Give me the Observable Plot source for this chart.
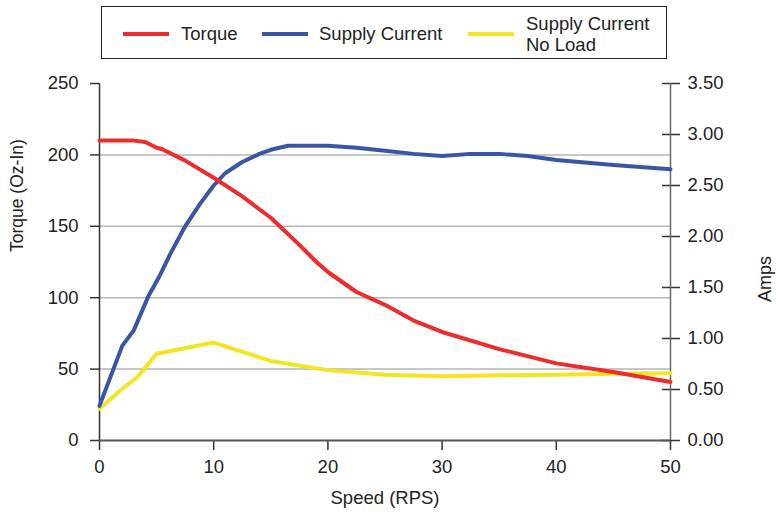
<!DOCTYPE html>
<html>
<head>
<meta charset="utf-8">
<script src="https://cdn.jsdelivr.net/npm/d3@7"></script>
<script src="https://cdn.jsdelivr.net/npm/@observablehq/plot@0.6"></script>
<style>
  body { margin: 0; background: #fff; font-family: "Liberation Sans", Arial, Helvetica, sans-serif; }
  #wrap { position: relative; width: 776px; height: 516px; }
  #chart { position: absolute; left: 0; top: 0; }
  #legendBox { position: absolute; left: 101px; top: 6px; width: 566px; height: 53px; border: 1.5px solid #222; box-sizing: border-box; }
  .sw { position: absolute; height: 4.5px; }
  .lab { position: absolute; font-size: 18.5px; line-height: 21px; color: #222; white-space: nowrap; }
</style>
</head>
<body>
<div id="wrap">
  <div id="chart"></div>
  <div id="legendBox"></div>
</div>
<script>
// Speed (RPS) vs Torque (Oz-In)
const torqueSpeed = [0, 3, 4, 5, 5.5, 7.5, 10, 12.5, 15, 17.5, 19, 20, 22.5, 25, 27.5, 30, 35, 40, 45, 50];
const torqueVals  = [210, 210, 209, 205, 204, 196, 184, 171, 156, 137, 125, 118, 104, 95, 84, 76, 64, 54, 48, 41];

// Speed vs Supply Current (Amps)
const currentSpeed = [0, 2, 3, 4.3, 5.2, 6.2, 7.5, 8.8, 10, 11, 12.5, 14, 15, 16.5, 20, 22.5, 25, 27.5, 30, 32.5, 35, 37.5, 40, 45, 50];
const currentVals  = [0.34, 0.93, 1.08, 1.42, 1.60, 1.83, 2.10, 2.32, 2.50, 2.62, 2.73, 2.81, 2.85, 2.89, 2.89, 2.87, 2.84, 2.81, 2.79, 2.81, 2.81, 2.79, 2.75, 2.70, 2.66];

// Speed vs Supply Current No Load (Amps)
const noLoadSpeed = [0, 1.8, 3.3, 3.9, 5, 10, 15, 20, 25, 30, 35, 40, 45, 50];
const noLoadVals  = [0.31, 0.49, 0.62, 0.70, 0.85, 0.96, 0.78, 0.69, 0.645, 0.63, 0.64, 0.645, 0.655, 0.66];

const xTicks = [0, 10, 20, 30, 40, 50];
const torqueTicks = [0, 50, 100, 150, 200, 250];
const ampTicks = [0, 0.5, 1, 1.5, 2, 2.5, 3, 3.5];
const gridTicks = [50, 100, 150, 200];

const seriesNames = ["Torque", "Supply Current", "Supply Current\nNo Load"];
const seriesColors = ["#ee2b2d", "#3a55a6", "#f3e424"];

const torqueMax = 250, ampMax = 3.5;
const k = torqueMax / ampMax; // amps -> torque-axis units

const torque = torqueSpeed.map((s, i) => ({speed: s, v: torqueVals[i]}));
const current = currentSpeed.map((s, i) => ({speed: s, v: currentVals[i] * k}));
const noLoad = noLoadSpeed.map((s, i) => ({speed: s, v: noLoadVals[i] * k}));

const axisColor = "#333";
const fam = "'Liberation Sans', Arial, Helvetica, sans-serif";

const plot = Plot.plot({
  width: 776,
  height: 516,
  marginTop: 83,
  marginBottom: 76,
  marginLeft: 99,
  marginRight: 106,
  style: {fontSize: "18.5px", fontFamily: fam, color: "#222", background: "#fff"},
  x: {domain: [0, 50]},
  y: {domain: [0, torqueMax]},
  marks: [
    Plot.ruleY(gridTicks, {stroke: "#b5b5b5", strokeWidth: 1.5}),
    Plot.axisY({anchor: "left", ticks: torqueTicks, tickSize: 9, tickPadding: 12, stroke: axisColor, strokeWidth: 1.5, label: null, tickFormat: d => d}),
    Plot.axisY({anchor: "right", ticks: ampTicks.map(a => a * k), tickSize: 9, tickPadding: 8, stroke: axisColor, strokeWidth: 1.5, label: null, tickFormat: d => (d / k).toFixed(2)}),
    Plot.axisY({anchor: "right", ticks: ampTicks.map(a => a * k), tickSize: -9, stroke: axisColor, strokeWidth: 1.5, label: null, tickFormat: () => ""}),
    Plot.axisX({ticks: xTicks, tickSize: 10, tickPadding: 9, stroke: axisColor, strokeWidth: 1.5, label: null, tickFormat: d => d}),
    Plot.ruleX([0], {stroke: axisColor, strokeWidth: 1.5}),
    Plot.ruleX([50], {stroke: "#666", strokeWidth: 1.5}),
    Plot.ruleY([0], {stroke: "#555", strokeWidth: 2}),
    Plot.line(noLoad, {x: "speed", y: "v", stroke: seriesColors[2], strokeWidth: 4}),
    Plot.line(current, {x: "speed", y: "v", stroke: seriesColors[1], strokeWidth: 4}),
    Plot.line(torque, {x: "speed", y: "v", stroke: seriesColors[0], strokeWidth: 4}),
    Plot.text(["Torque (Oz-In)"], {frameAnchor: "left", dx: -82, dy: -10, rotate: -90, fill: "#222", fontSize: 17.5}),
    Plot.text(["Amps"], {frameAnchor: "right", dx: 95, dy: -6, rotate: -90, fill: "#222", fontSize: 18}),
    Plot.text(["Speed (RPS)"], {frameAnchor: "bottom", dy: 63, fill: "#222", fontSize: 18.5})
  ]
});
document.getElementById("chart").appendChild(plot);

// Legend (swatch left, label left, label top)
const wrap = document.getElementById("wrap");
const swLeft = [123, 262, 468];
const labLeft = [181, 319, 526];
const labTop = [23, 23, 13];
seriesNames.forEach((name, i) => {
  const sw = document.createElement("div");
  sw.className = "sw";
  sw.style.left = swLeft[i] + "px";
  sw.style.top = "31.5px";
  sw.style.width = "46px";
  sw.style.background = seriesColors[i];
  const lab = document.createElement("div");
  lab.className = "lab";
  lab.style.left = labLeft[i] + "px";
  lab.style.top = labTop[i] + "px";
  lab.innerHTML = name.split("\n").join("<br>");
  wrap.appendChild(sw);
  wrap.appendChild(lab);
});
</script>
</body>
</html>
